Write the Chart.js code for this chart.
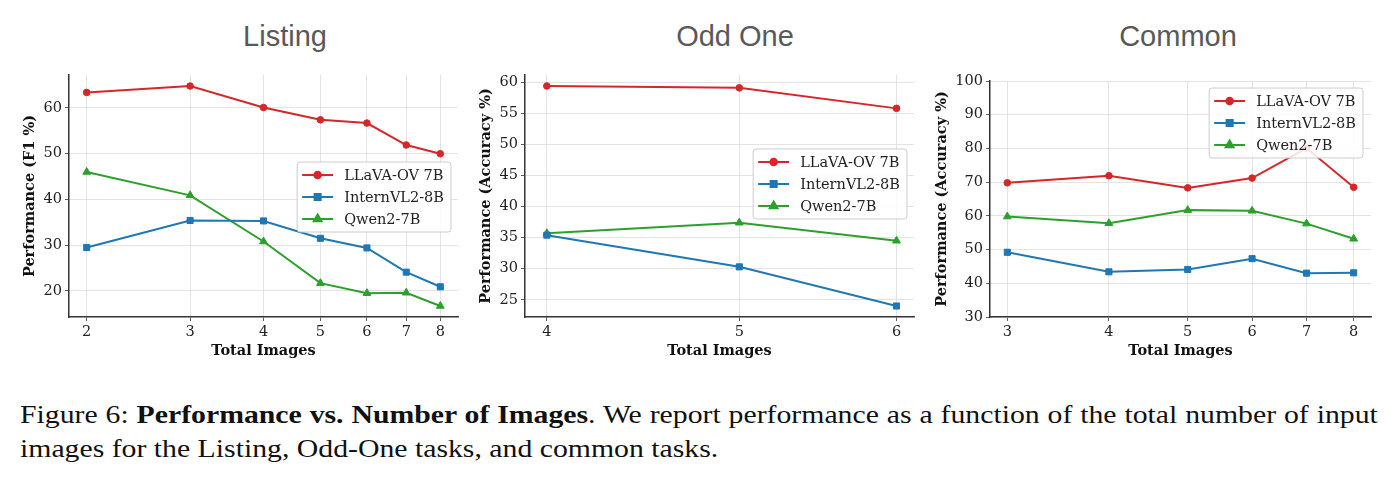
<!DOCTYPE html>
<html>
<head>
<meta charset="utf-8">
<script src="https://cdn.jsdelivr.net/npm/chart.js@4.4.1/dist/chart.umd.min.js"></script>
<style>
  body { margin: 0; background: #fff; width: 1395px; height: 481px; position: relative; overflow: hidden; }
  .ttl { position: absolute; top: 22px; font-family: "Liberation Sans", Arial, sans-serif; font-size: 29px; line-height: 29px; color: #595959; transform: translateX(-50%); white-space: nowrap; }
  canvas { position: absolute; top: 60px; }
  .cap { position: absolute; left: 20px; width: 1141px; font-family: "Liberation Serif", "Times New Roman", serif; font-size: 25px; line-height: 34px; color: #111; white-space: nowrap; transform: scaleX(1.19); transform-origin: 0 0; }
  .cap1 { top: 398px; text-align: justify; text-align-last: justify; white-space: normal; }
  .cap2 { top: 432px; }
</style>
</head>
<body>
<div class="ttl" style="left:285px">Listing</div>
<div class="ttl" style="left:735px">Odd One</div>
<div class="ttl" style="left:1178px">Common</div>
<canvas id="c1" width="465" height="300" style="left:0px"></canvas>
<canvas id="c2" width="460" height="300" style="left:465px"></canvas>
<canvas id="c3" width="465" height="300" style="left:925px"></canvas>
<div class="cap cap1">Figure 6: <b>Performance vs. Number of Images</b>. We report performance as a function of the total number of input</div>
<div class="cap cap2">images for the Listing, Odd-One tasks, and common tasks.</div>
<script>
// model names
var models = ['LLaVA-OV 7B', 'InternVL2-8B', 'Qwen2-7B'];

// Listing
var listingImages = [2, 3, 4, 5, 6, 7, 8];
var listingLlava  = [63.4, 64.8, 60.1, 57.4, 56.7, 51.9, 50.0];
var listingIntern = [29.5, 35.4, 35.3, 31.5, 29.4, 24.1, 20.9];
var listingQwen   = [46.0, 40.9, 30.8, 21.7, 19.5, 19.6, 16.7];
var listingYTicks = [20, 30, 40, 50, 60];

// Odd One
var oddImages = [4, 5, 6];
var oddLlava  = [59.4, 59.1, 55.8];
var oddIntern = [35.4, 30.3, 24.0];
var oddQwen   = [35.7, 37.4, 34.5];
var oddYTicks = [25, 30, 35, 40, 45, 50, 55, 60];

// Common
var commonImages = [3, 4, 5, 6, 7, 8];
var commonLlava  = [69.8, 71.9, 68.3, 71.2, 80.1, 68.5];
var commonIntern = [49.2, 43.4, 44.1, 47.3, 43.0, 43.1];
var commonQwen   = [59.8, 57.8, 61.7, 61.5, 57.7, 53.2];
var commonYTicks = [30, 40, 50, 60, 70, 80, 90, 100];

Chart.defaults.font.family = '"DejaVu Serif", serif';
Chart.defaults.font.size = 14.5;
Chart.defaults.color = '#222';

var colors = ['#d62728', '#1f77b4', '#2ca02c'];
var styles = ['circle', 'rect', 'triangle'];
var radii = [3.3, 4.3, 4.5];

function pts(xs, ys) {
    var out = [];
    for (var i = 0; i < xs.length; i++) out.push({x: xs[i], y: ys[i]});
    return out;
}

// legend drawn inside the plot area, matplotlib style
var boxLegend = {
    id: 'boxLegend',
    afterDatasetsDraw: function(chart, args, opts) {
        var ctx = chart.ctx, area = chart.chartArea;
        var sets = chart.data.datasets;
        ctx.save();
        ctx.font = '14.5px "DejaVu Serif", serif';
        var tw = 0;
        sets.forEach(function(d) { tw = Math.max(tw, ctx.measureText(d.label).width); });
        var w = 5 + 31 + 11 + tw + 7;
        var h = 70;
        var x0 = area.right - opts.right - w;
        var y0 = area.top + opts.top;
        ctx.beginPath();
        ctx.roundRect(x0, y0, w, h, 3);
        ctx.fillStyle = 'rgba(255,255,255,0.85)';
        ctx.fill();
        ctx.strokeStyle = '#cccccc';
        ctx.lineWidth = 1;
        ctx.stroke();
        sets.forEach(function(d, i) {
            var cy = y0 + 13 + i * 22;
            ctx.strokeStyle = d.borderColor;
            ctx.lineWidth = 2;
            ctx.beginPath();
            ctx.moveTo(x0 + 5, cy);
            ctx.lineTo(x0 + 36, cy);
            ctx.stroke();
            ctx.fillStyle = d.borderColor;
            Chart.helpers.drawPoint(ctx, {pointStyle: d.pointStyle, radius: d.pointRadius, rotation: 0, borderWidth: 1}, x0 + 20.5, cy);
            ctx.fillStyle = '#222';
            ctx.textBaseline = 'middle';
            ctx.fillText(d.label, x0 + 47, cy + 1);
        });
        ctx.restore();
    }
};

function makeChart(id, xs, series, yTicks, yMin, yMax, yTitle, lay, leg) {
    var lx = Math.log10(xs[0]), hx = Math.log10(xs[xs.length - 1]);
    var m = (hx - lx) * 0.05;
    var datasets = series.map(function(s, i) {
        return {
            label: models[i],
            data: pts(xs, s),
            borderColor: colors[i],
            backgroundColor: colors[i],
            borderWidth: 2,
            pointStyle: styles[i],
            pointRadius: radii[i],
            pointBorderWidth: 1,
            tension: 0
        };
    });
    return new Chart(document.getElementById(id), {
        type: 'line',
        data: {datasets: datasets},
        plugins: [boxLegend],
        options: {
            responsive: false,
            animation: false,
            layout: {padding: {left: lay.left, top: lay.top, right: lay.right, bottom: 0}},
            plugins: {
                legend: {display: false},
                tooltip: {enabled: false},
                boxLegend: leg
            },
            scales: {
                x: {
                    type: 'logarithmic',
                    min: Math.pow(10, lx - m),
                    max: Math.pow(10, hx + m),
                    afterBuildTicks: function(sc) { sc.ticks = xs.map(function(v) { return {value: v}; }); },
                    afterFit: function(sc) { sc.height = 43; },
                    ticks: {autoSkip: false, maxRotation: 0, padding: 3, color: '#222', callback: function(v) { return String(v); }},
                    grid: {color: '#dcdcdc', lineWidth: 0.8, borderDash: [1, 2.5], tickColor: '#333', tickLength: 4, tickBorderDash: []},
                    border: {color: '#333', width: 1.5},
                    title: {display: true, text: 'Total Images', font: {weight: 'bold', size: 14.5}, color: '#111', padding: 0}
                },
                y: {
                    min: yMin,
                    max: yMax,
                    afterBuildTicks: function(sc) { sc.ticks = yTicks.map(function(v) { return {value: v}; }); },
                    afterFit: function(sc) { sc.width = lay.yw; },
                    ticks: {padding: 3, color: '#222'},
                    grid: {color: '#dcdcdc', lineWidth: 0.8, borderDash: [1, 2.5], tickColor: '#333', tickLength: 4, tickBorderDash: []},
                    border: {color: '#333', width: 1.5},
                    title: {display: true, text: yTitle, font: {weight: 'bold', size: 14.5}, color: '#111', padding: 0}
                }
            }
        }
    });
}

function autoLim(series) {
    var all = [].concat.apply([], series);
    var lo = Math.min.apply(null, all), hi = Math.max.apply(null, all);
    var m = (hi - lo) * 0.05;
    return [lo - m, hi + m];
}

var l1 = autoLim([listingLlava, listingIntern, listingQwen]);
makeChart('c1', listingImages, [listingLlava, listingIntern, listingQwen], listingYTicks, l1[0], l1[1],
    'Performance (F1 %)', {left: 22, top: 15, right: 7, yw: 47}, {right: 7, top: 87});

var l2 = autoLim([oddLlava, oddIntern, oddQwen]);
makeChart('c2', oddImages, [oddLlava, oddIntern, oddQwen], oddYTicks, l2[0], l2[1],
    'Performance (Accuracy %)', {left: 13, top: 15, right: 11, yw: 47}, {right: 7, top: 74});

makeChart('c3', commonImages, [commonLlava, commonIntern, commonQwen], commonYTicks, 30, 100,
    'Performance (Accuracy %)', {left: 9, top: 21, right: 19, yw: 56}, {right: 8, top: 7});
</script>
</body>
</html>
